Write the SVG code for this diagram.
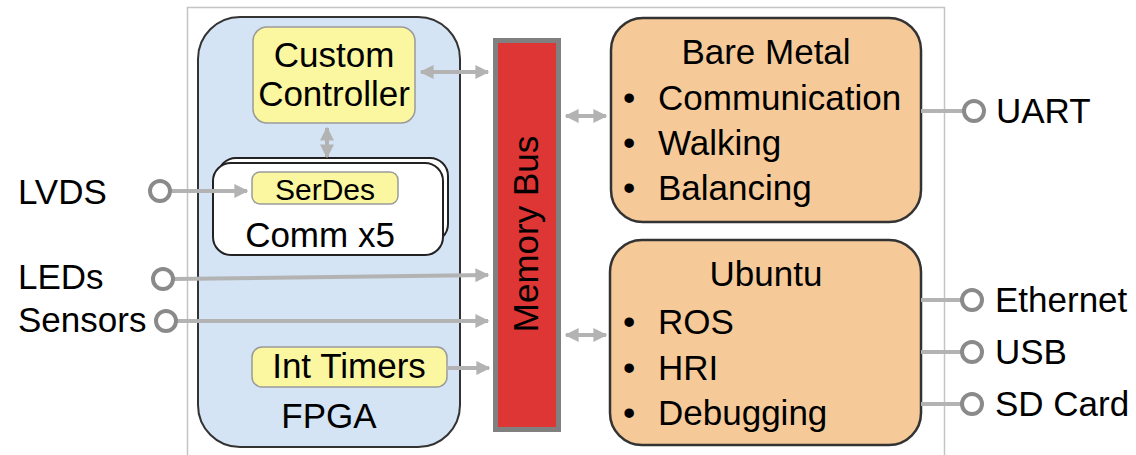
<svg xmlns="http://www.w3.org/2000/svg" width="1136" height="455" viewBox="0 0 1136 455">
<defs>
<marker id="ah" viewBox="0 0 10 10" refX="9" refY="5" markerWidth="3.5" markerHeight="3.5" orient="auto-start-reverse" markerUnits="strokeWidth">
<path d="M0,0 L10,5 L0,10 z" fill="#b3b3b3"/>
</marker>
<style>
text{font-family:"Liberation Sans",Arial,sans-serif;font-size:35px;fill:#000}
.conn{stroke:#b3b3b3;stroke-width:4;fill:none}
.arr{marker-end:url(#ah)}
.bi{marker-start:url(#ah);marker-end:url(#ah)}
.port{fill:#fff;stroke:#8a8a8a;stroke-width:4}
.yel{fill:#fbf7a0;stroke:#9a9a9a;stroke-width:1.5}
.os{fill:#f6ca98;stroke:#333;stroke-width:2.5}
.mid{text-anchor:middle}
</style>
</defs>
<rect x="0" y="0" width="1136" height="455" fill="#fff"/>
<rect id="frame" x="187.5" y="7.5" width="757" height="470" fill="none" stroke="#c4c4c4" stroke-width="1.5"/>

<g id="fpga">
<rect x="198" y="17" width="262" height="430" rx="42" fill="#d4e4f4" stroke="#333" stroke-width="2"/>
<text x="329" y="428" class="mid">FPGA</text>
</g>
<g id="custom-controller">
<rect x="253" y="27" width="162" height="96" rx="14" class="yel"/>
<text x="334" y="67" class="mid">Custom</text>
<text x="334" y="106" class="mid">Controller</text>
</g>
<g id="comm">
<rect x="218" y="158" width="230" height="84" rx="18" fill="#fff" stroke="#222" stroke-width="2"/>
<rect x="213" y="163" width="230" height="92" rx="18" fill="#fff" stroke="#222" stroke-width="2"/>
<text x="320" y="247" class="mid">Comm x5</text>
</g>
<g id="serdes">
<rect x="252" y="172" width="146" height="32" rx="8" class="yel"/>
<text x="325" y="200" class="mid" style="font-size:30px">SerDes</text>
</g>
<g id="int-timers">
<rect x="252" y="347" width="195" height="40" rx="10" class="yel"/>
<text x="349" y="378" class="mid">Int Timers</text>
</g>
<g id="memory-bus">
<rect x="495.5" y="40.5" width="63" height="389" fill="#de3535" stroke="#808080" stroke-width="5"/>
<text x="538" y="234" class="mid" transform="rotate(-90 538 234)">Memory Bus</text>
</g>
<g id="bare-metal">
<rect x="611" y="18" width="310" height="204" rx="32" class="os"/>
<text x="766" y="64" class="mid">Bare Metal</text>
<text x="623" y="110">•</text><text x="658" y="110">Communication</text>
<text x="623" y="155">•</text><text x="658" y="155">Walking</text>
<text x="623" y="200">•</text><text x="658" y="200">Balancing</text>
</g>
<g id="ubuntu">
<rect x="610" y="240" width="311" height="205" rx="32" class="os"/>
<text x="766" y="286" class="mid">Ubuntu</text>
<text x="623" y="334">•</text><text x="658" y="334">ROS</text>
<text x="623" y="380">•</text><text x="658" y="380">HRI</text>
<text x="623" y="425">•</text><text x="658" y="425">Debugging</text>
</g>

<g id="connectors">
<line x1="421" y1="72" x2="488" y2="72" class="conn bi"/>
<line x1="327" y1="128" x2="327" y2="157" class="conn bi"/>
<line x1="566" y1="116" x2="606" y2="116" class="conn bi"/>
<line x1="566" y1="335" x2="606" y2="335" class="conn bi"/>
<line x1="171" y1="191" x2="247" y2="191" class="conn arr"/>
<line x1="174" y1="279" x2="488" y2="275" class="conn arr"/>
<line x1="177" y1="321" x2="488" y2="321" class="conn arr"/>
<line x1="447" y1="368" x2="489" y2="368" class="conn arr"/>
<line x1="921" y1="111" x2="963" y2="111" class="conn"/>
<line x1="921" y1="300" x2="962" y2="300" class="conn"/>
<line x1="921" y1="352" x2="962" y2="352" class="conn"/>
<line x1="921" y1="404" x2="962" y2="404" class="conn"/>
</g>

<g id="port-lvds"><circle cx="160" cy="191" r="10" class="port"/><text x="18" y="204">LVDS</text></g>
<g id="port-leds"><circle cx="163" cy="279" r="10" class="port"/><text x="18" y="289">LEDs</text></g>
<g id="port-sensors"><circle cx="166" cy="321" r="10" class="port"/><text x="18" y="332">Sensors</text></g>
<g id="port-uart"><circle cx="974" cy="111" r="10" class="port"/><text x="996" y="123">UART</text></g>
<g id="port-ethernet"><circle cx="972" cy="300" r="10" class="port"/><text x="995" y="312">Ethernet</text></g>
<g id="port-usb"><circle cx="972" cy="352" r="10" class="port"/><text x="995" y="364">USB</text></g>
<g id="port-sd"><circle cx="972" cy="404" r="10" class="port"/><text x="995" y="416">SD Card</text></g>
</svg>
